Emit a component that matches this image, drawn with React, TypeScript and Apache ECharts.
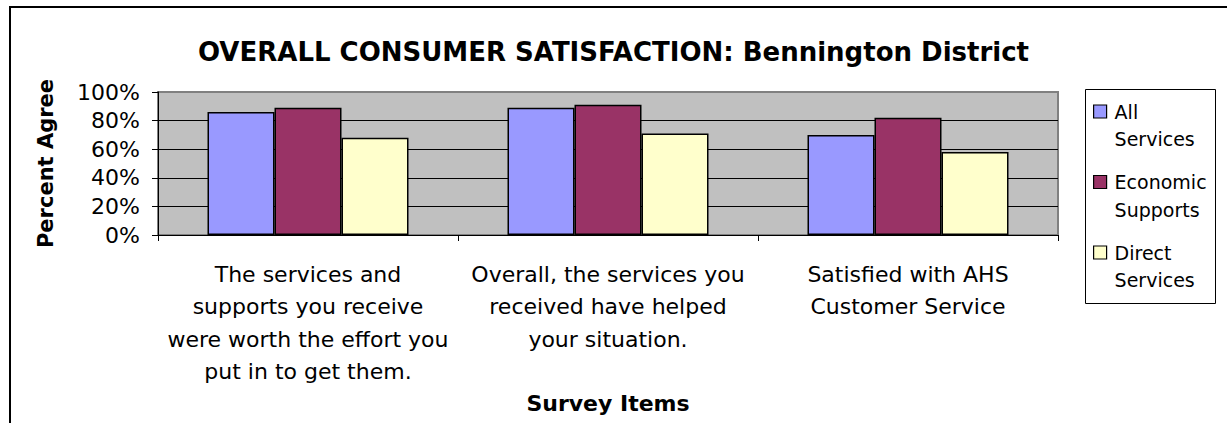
import React, { useEffect, useRef } from 'react';
import * as echarts from 'echarts';

const chartTitle = 'OVERALL CONSUMER SATISFACTION: Bennington District';
const xAxisName = 'Survey Items';
const yAxisName = 'Percent Agree';

const categories = [
  'The services and\nsupports you receive\nwere worth the effort you\nput in to get them.',
  'Overall, the services you\nreceived have helped\nyour situation.',
  'Satisfied with AHS\nCustomer Service',
];

const seriesNames = ['All Services', 'Economic Supports', 'Direct Services'];
const allServices = [0.86, 0.89, 0.70];
const economicSupports = [0.89, 0.91, 0.82];
const directServices = [0.68, 0.71, 0.58];
const seriesColors = ['#9999FF', '#993366', '#FFFFCC'];

const yMin = 0;
const yMax = 1;
const yStep = 0.2;

const FONT = 'DejaVu Sans';

export default function App() {
  const ref = useRef<HTMLDivElement>(null);

  useEffect(() => {
    if (!ref.current) return;
    const chart = echarts.init(ref.current, null, { renderer: 'svg' });
    const values = [allServices, economicSupports, directServices];

    const option: any = {
      animation: false,
      backgroundColor: '#ffffff',
      textStyle: { fontFamily: FONT },
      title: {
        text: chartTitle,
        left: 'center',
        top: 37,
        padding: 0,
        textStyle: {
          fontFamily: FONT,
          fontSize: 26,
          fontWeight: 'bold',
          color: '#000',
          lineHeight: 30,
        },
      },
      grid: {
        left: 158,
        right: 169,
        top: 92,
        bottom: 188,
        show: true,
        backgroundColor: '#C0C0C0',
        borderColor: '#808080',
        borderWidth: 2,
        containLabel: false,
        outerBoundsMode: 'none',
      },
      legend: {
        orient: 'vertical',
        left: 1093,
        top: 70.25,
        padding: 0,
        itemGap: -12,
        itemWidth: 13,
        itemHeight: 13,
        icon: 'rect',
        selectedMode: false,
        data: seriesNames,
        formatter: (n: string) => '\n' + n.replace(' ', '\n'),
        itemStyle: { borderColor: '#000', borderWidth: 1.2 },
        textStyle: {
          fontFamily: FONT,
          fontSize: 19,
          lineHeight: 27.5,
          color: '#000',
          padding: [0, 0, 0, 3],
        },
      },
      graphic: [
        {
          type: 'rect',
          silent: true,
          z: -10,
          shape: { x: 10, y: 7, width: 1400, height: 600 },
          style: { fill: 'none', stroke: '#000', lineWidth: 2 },
        },
        {
          type: 'rect',
          silent: true,
          z: -5,
          shape: { x: 1085.5, y: 89.5, width: 130, height: 214 },
          style: { fill: '#fff', stroke: '#000', lineWidth: 1 },
        },
      ],
      xAxis: {
        type: 'category',
        data: categories,
        name: xAxisName,
        nameLocation: 'middle',
        nameGap: 157,
        nameTextStyle: {
          fontFamily: FONT,
          fontSize: 22,
          fontWeight: 'bold',
          color: '#000',
          lineHeight: 22,
        },
        axisLine: { show: true, lineStyle: { color: '#000', width: 1 } },
        axisTick: { show: true, alignWithLabel: false, length: 6, lineStyle: { color: '#000' } },
        axisLabel: {
          interval: 0,
          fontFamily: FONT,
          fontSize: 22,
          lineHeight: 32.5,
          color: '#000',
          margin: 23,
        },
        splitLine: { show: false },
      },
      yAxis: {
        type: 'value',
        min: yMin,
        max: yMax,
        interval: yStep,
        name: yAxisName,
        nameLocation: 'middle',
        nameRotate: 90,
        nameGap: 101,
        nameTextStyle: {
          fontFamily: FONT,
          fontSize: 21,
          fontWeight: 'bold',
          color: '#000',
          lineHeight: 22,
        },
        axisLine: { show: true, lineStyle: { color: '#000', width: 1 } },
        axisTick: { show: true, length: 6, lineStyle: { color: '#000' } },
        axisLabel: {
          formatter: (v: number) => Math.round(v * 100) + '%',
          fontFamily: FONT,
          fontSize: 22,
          color: '#000',
          margin: 18,
        },
        splitLine: {
          show: true,
          lineStyle: { color: ['#000', '#000', '#000', '#000', '#000', '#808080'], width: 1 },
        },
      },
      series: seriesNames.map((name, i) => ({
        name,
        type: 'bar',
        data: values[i],
        barGap: '0%',
        barCategoryGap: '33%',
        itemStyle: { color: seriesColors[i], borderColor: '#000', borderWidth: 1.5 },
      })),
    };

    chart.setOption(option);
    return () => chart.dispose();
  }, []);

  return (
    <div
      ref={ref}
      style={{ position: 'fixed', left: 0, top: 0, width: 1227, height: 423 }}
    />
  );
}
